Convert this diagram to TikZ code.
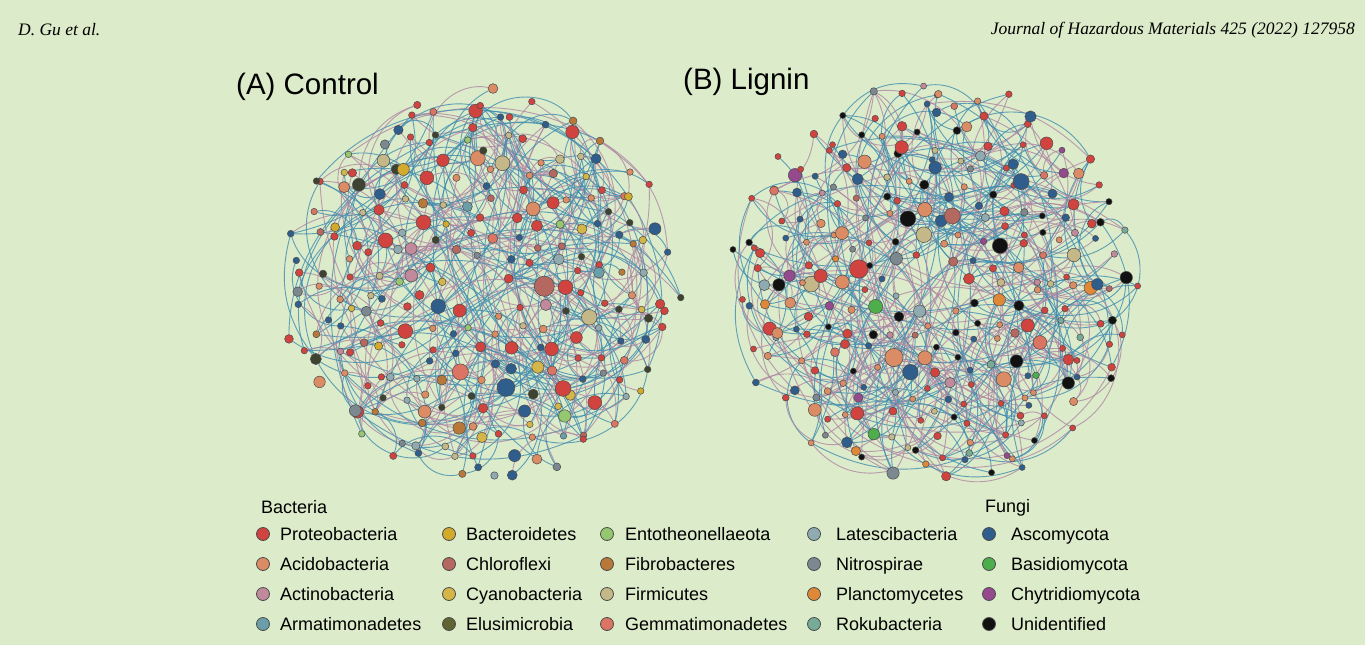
\documentclass[tikz,border=0pt]{standalone}
\usepackage{fontspec}
\setmainfont{Liberation Sans}
\newfontfamily\hdrfont{Liberation Serif}
\pgfdeclarelayer{back}
\pgfdeclarelayer{edges}
\pgfsetlayers{back,edges,main}
\definecolor{bgc}{HTML}{DCEBC9}
\definecolor{cProteo}{HTML}{D1433F}
\definecolor{cAcido}{HTML}{DB8C64}
\definecolor{cActino}{HTML}{C08A9C}
\definecolor{cArmat}{HTML}{6A9EA8}
\definecolor{cBacter}{HTML}{D2AA2C}
\definecolor{cChloro}{HTML}{B4685F}
\definecolor{cCyano}{HTML}{D4B648}
\definecolor{cElusi}{HTML}{3E4230}
\definecolor{cEntot}{HTML}{95C770}
\definecolor{cFibro}{HTML}{B8783A}
\definecolor{cFirmi}{HTML}{C4B888}
\definecolor{cGemma}{HTML}{DC7464}
\definecolor{cLates}{HTML}{8FAAB0}
\definecolor{cNitro}{HTML}{7C8890}
\definecolor{cPlanc}{HTML}{DE8838}
\definecolor{cRoku}{HTML}{78AA98}
\definecolor{cAsco}{HTML}{2F5D8C}
\definecolor{cBasid}{HTML}{4FAE4C}
\definecolor{cChytr}{HTML}{944A8C}
\definecolor{cUnid}{HTML}{111111}
\definecolor{cLegElusi}{HTML}{5E6530}
\definecolor{edgeTeal}{HTML}{3F8DB0}
\definecolor{edgeMauve}{HTML}{AE86A4}
\tikzset{
  dot/.style={circle,draw=black!70,line width=0.5pt,inner sep=0pt},
  edgeT/.style={draw=edgeTeal,line width=0.9pt,opacity=0.8},
  edgeM/.style={draw=edgeMauve,line width=0.9pt,opacity=0.8},
  legdot/.style={dot,minimum size=13pt,line width=0.8pt},
  legtxt/.style={anchor=base west,font=\fontsize{18}{20}\selectfont,inner sep=0pt},
  title/.style={anchor=west,font=\fontsize{29.5}{32}\selectfont,inner sep=0pt},
  hdr/.style={font=\hdrfont\itshape\fontsize{17.5}{19}\selectfont,inner sep=0pt}
}
\newcommand\pickA[1]{\ifcase#1 \def\ncol{cProteo}\or\def\ncol{cProteo}\or\def\ncol{cProteo}\or\def\ncol{cProteo}\or\def\ncol{cProteo}\or\def\ncol{cProteo}\or\def\ncol{cProteo}\or\def\ncol{cProteo}%
\or\def\ncol{cAcido}\or\def\ncol{cAcido}\or\def\ncol{cAcido}\or\def\ncol{cAcido}\or\def\ncol{cAcido}%
\or\def\ncol{cAsco}\or\def\ncol{cAsco}\or\def\ncol{cAsco}\or\def\ncol{cAsco}%
\or\def\ncol{cElusi}\or\def\ncol{cElusi}\or\def\ncol{cBacter}\or\def\ncol{cCyano}\or\def\ncol{cActino}\or\def\ncol{cArmat}%
\or\def\ncol{cFirmi}\or\def\ncol{cChloro}\or\def\ncol{cLates}\or\def\ncol{cNitro}\or\def\ncol{cGemma}\or\def\ncol{cFibro}\or\def\ncol{cEntot}\else\def\ncol{cProteo}\fi}
\newcommand\pickB[1]{\ifcase#1 \def\ncol{cProteo}\or\def\ncol{cProteo}\or\def\ncol{cProteo}\or\def\ncol{cProteo}\or\def\ncol{cProteo}\or\def\ncol{cProteo}\or\def\ncol{cProteo}\or\def\ncol{cProteo}\or\def\ncol{cProteo}\or\def\ncol{cProteo}%
\or\def\ncol{cAcido}\or\def\ncol{cAcido}\or\def\ncol{cAcido}\or\def\ncol{cAcido}\or\def\ncol{cAcido}%
\or\def\ncol{cUnid}\or\def\ncol{cUnid}\or\def\ncol{cUnid}\or\def\ncol{cUnid}%
\or\def\ncol{cAsco}\or\def\ncol{cAsco}\or\def\ncol{cAsco}%
\or\def\ncol{cActino}\or\def\ncol{cChloro}\or\def\ncol{cGemma}\or\def\ncol{cLates}\or\def\ncol{cFirmi}\or\def\ncol{cPlanc}\or\def\ncol{cNitro}\or\def\ncol{cRoku}\or\def\ncol{cUnid}\or\def\ncol{cAsco}\or\def\ncol{cBasid}\or\def\ncol{cChytr}\else\def\ncol{cProteo}\fi}
\begin{document}
\begin{tikzpicture}[x=1pt,y=-1pt]
\begin{pgfonlayer}{back}
\fill[bgc] (0,0) rectangle (1365,645);
\end{pgfonlayer}
\useasboundingbox (0,0) rectangle (1365,645);
% header
\node[hdr,anchor=west] (auth) at (18,30) {D. Gu et al.};
\node[hdr,anchor=east] (jour) at (1355,30) {Journal of Hazardous Materials 425 (2022) 127958};
% titles
\node[title] (tA) at (236,87) {(A) Control};
\node[title] (tB) at (683,82) {(B) Lignin};
% network A
\pgfmathsetseed{11}
\foreach \i in {1,...,245}{
  \pgfmathsetmacro{\ang}{1.46939*\i+rnd*10}
  \pgfmathsetmacro{\rq}{frac(\i*0.618034)}
  \pgfmathsetmacro{\rr}{min(1,sqrt(0.02+0.98*\rq)*(0.94+0.08*rnd))}
  \pgfmathsetmacro{\px}{481+202*\rr*cos(\ang)}
  \pgfmathsetmacro{\py}{287+200*\rr*sin(\ang)}
  \pgfmathsetmacro{\uu}{0.1+0.9*rnd}
  \pgfmathsetmacro{\sz}{6.5+12*\uu*\uu*\uu*\uu*(1.5-\rr)}
  \pgfmathrandominteger{\cc}{0}{29}
  \pickA{\cc}
  \node[dot,fill=\ncol,minimum size=\sz pt] (A\i) at (\px,\py) {};
}
\begin{pgfonlayer}{edges}
\foreach \k in {1,...,430}{
  \pgfmathrandominteger{\a}{1}{245}
  \pgfmathsetmacro{\lim}{rnd<0.6 ? 35 : 122}
  \pgfmathrandominteger{\off}{-\lim}{\lim}
  \pgfmathtruncatemacro{\b}{mod(\a+\off+(\off==0)+244,245)+1}
  \pgfmathsetmacro{\bend}{(rnd<0.5 ? -1 : 1)*(25+35*rnd)}
  \pgfmathrandominteger{\t}{0}{1}
  \ifnum\t=0 \def\est{edgeT}\else\def\est{edgeM}\fi
  \draw[\est] (A\a) to[bend left=\bend] (A\b);
}
\end{pgfonlayer}
% network B
\pgfmathsetseed{23}
\foreach \i in {1,...,275}{
  \pgfmathsetmacro{\ang}{1.30909*\i+rnd*10}
  \pgfmathsetmacro{\rq}{frac(\i*0.618034)}
  \pgfmathsetmacro{\rr}{min(1,sqrt(0.02+0.98*\rq)*(0.94+0.08*rnd))}
  \pgfmathsetmacro{\px}{934+204*\rr*cos(\ang)}
  \pgfmathsetmacro{\py}{284+204*\rr*sin(\ang)}
  \pgfmathsetmacro{\uu}{0.1+0.9*rnd}
  \pgfmathsetmacro{\sz}{6+12*\uu*\uu*\uu*\uu*(1.5-\rr)}
  \pgfmathrandominteger{\cc}{0}{33}
  \pickB{\cc}
  \node[dot,fill=\ncol,minimum size=\sz pt] (B\i) at (\px,\py) {};
}
\begin{pgfonlayer}{edges}
\foreach \k in {1,...,470}{
  \pgfmathrandominteger{\a}{1}{275}
  \pgfmathsetmacro{\lim}{rnd<0.6 ? 38 : 137}
  \pgfmathrandominteger{\off}{-\lim}{\lim}
  \pgfmathtruncatemacro{\b}{mod(\a+\off+(\off==0)+274,275)+1}
  \pgfmathsetmacro{\bend}{(rnd<0.5 ? -1 : 1)*(25+35*rnd)}
  \pgfmathrandominteger{\t}{0}{1}
  \ifnum\t=0 \def\est{edgeT}\else\def\est{edgeM}\fi
  \draw[\est] (B\a) to[bend left=\bend] (B\b);
}
\end{pgfonlayer}
% legend
\node[legtxt] (lbac) at (261,513) {Bacteria};
\node[legtxt] (lfun) at (985,512) {Fungi};
\foreach \cx/\tx/\ry/\col/\lab [count=\n] in {
  263/280/534/cProteo/Proteobacteria,
  263/280/564/cAcido/Acidobacteria,
  263/280/594/cActino/Actinobacteria,
  263/280/624/cArmat/Armatimonadetes,
  449/466/534/cBacter/Bacteroidetes,
  449/466/564/cChloro/Chloroflexi,
  449/466/594/cCyano/Cyanobacteria,
  449/466/624/cLegElusi/Elusimicrobia,
  607/625/534/cEntot/Entotheonellaeota,
  607/625/564/cFibro/Fibrobacteres,
  607/625/594/cFirmi/Firmicutes,
  607/625/624/cGemma/Gemmatimonadetes,
  814/836/534/cLates/Latescibacteria,
  814/836/564/cNitro/Nitrospirae,
  814/836/594/cPlanc/Planctomycetes,
  814/836/624/cRoku/Rokubacteria,
  989/1011/534/cAsco/Ascomycota,
  989/1011/564/cBasid/Basidiomycota,
  989/1011/594/cChytr/Chytridiomycota,
  989/1011/624/cUnid/Unidentified}{
  \node[legdot,fill=\col] (ld\n) at (\cx,\ry) {};
  \node[legtxt] (lt\n) at (\tx,\ry+6.5) {\lab};
}
\end{tikzpicture}
\end{document}
